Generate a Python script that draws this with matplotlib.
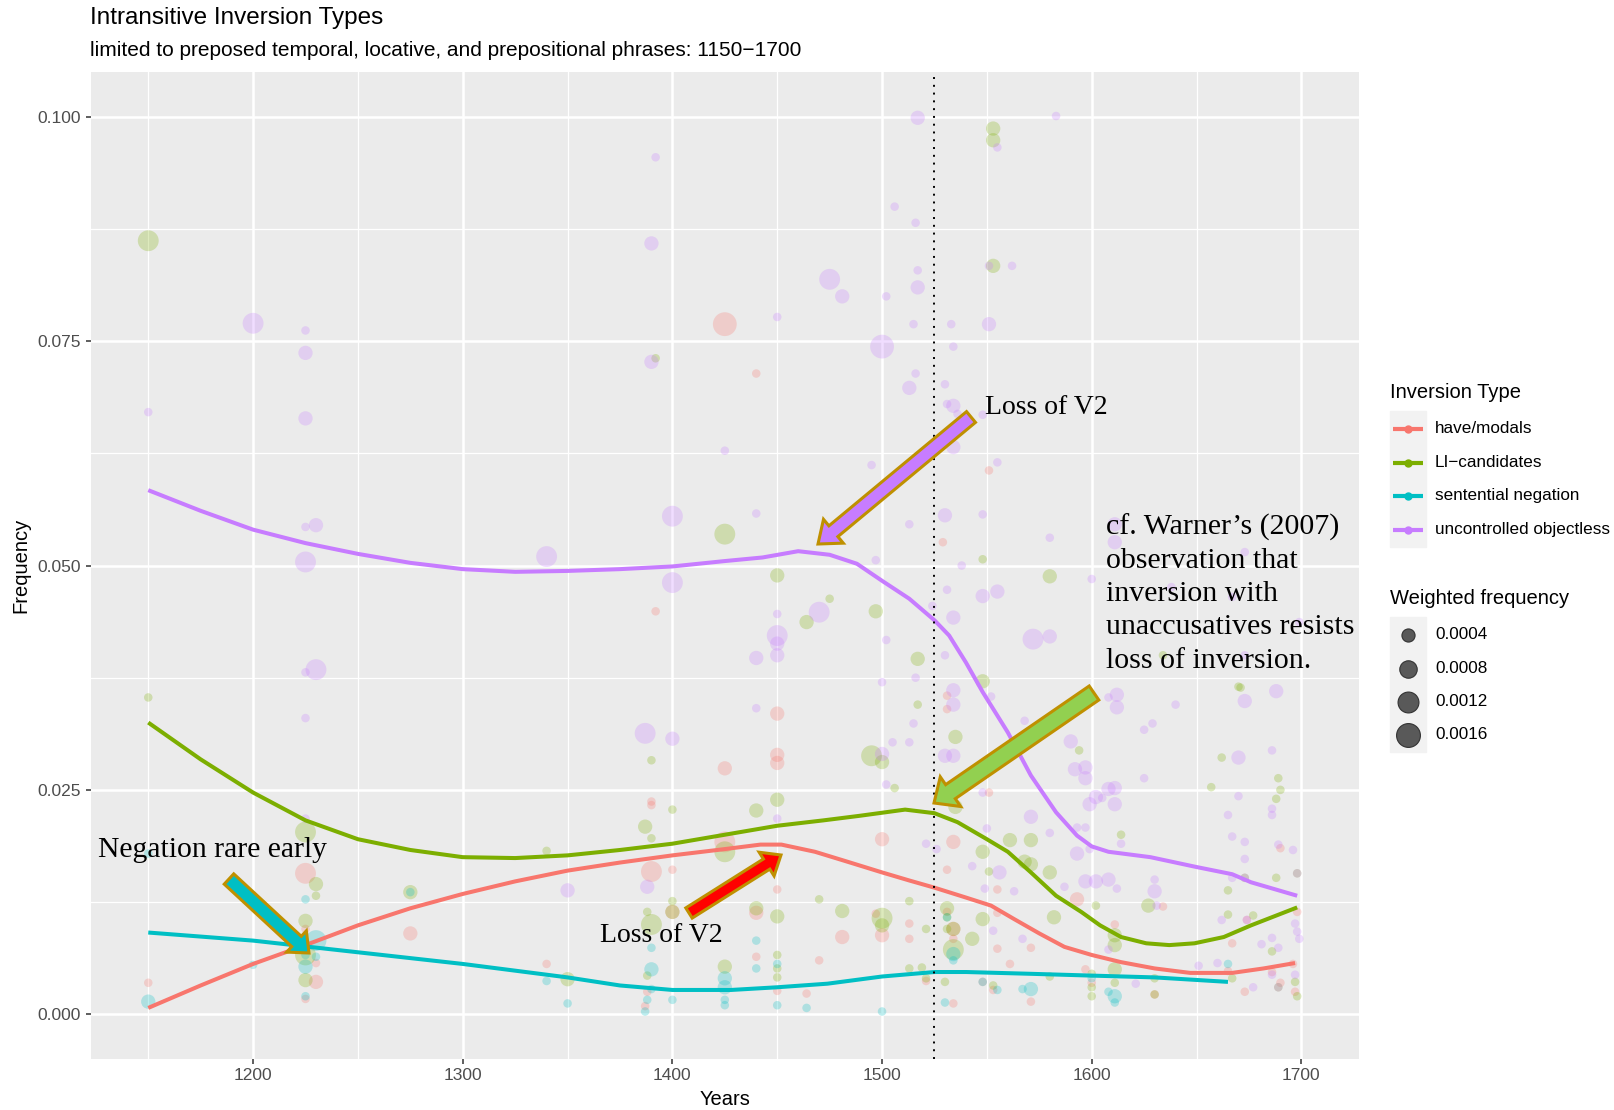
import matplotlib
matplotlib.use("Agg")
import matplotlib.pyplot as plt
from matplotlib.patches import FancyArrow, Rectangle

# weight classes (weighted frequency of each point)
S, M, L, XL = 0.0001, 0.0005, 0.0012, 0.0016

types = ['have/modals', 'LI\u2212candidates', 'sentential negation', 'uncontrolled objectless']
colors = ['#F8766D', '#7CAE00', '#00BFC4', '#C77CFF']

# observations: (year, frequency, weight)
modals_pts = [
    (1150, 0.0035, S), (1225, 0.0157, L), (1225, 0.0095, S), (1225, 0.0017, S), (1230, 0.0057, S),
    (1230, 0.0036, M), (1275, 0.0090, M), (1340, 0.0056, S), (1388, 0.0025, S), (1387, 0.0009, S),
    (1390, 0.0237, S), (1390, 0.0233, S), (1390, 0.0159, L), (1392, 0.0449, S), (1400, 0.0161, S),
    (1400, 0.0114, M), (1425, 0.0769, XL), (1425, 0.0274, M), (1425, 0.0192, L), (1440, 0.0714, S),
    (1440, 0.0113, M), (1440, 0.0064, S), (1450, 0.0335, M), (1450, 0.0289, M), (1450, 0.0280, M),
    (1450, 0.0139, S), (1450, 0.0026, S), (1464, 0.0023, S), (1470, 0.0060, S), (1481, 0.0086, M),
    (1497, 0.0112, S), (1500, 0.0195, M), (1500, 0.0088, M), (1513, 0.0101, S), (1513, 0.0084, S),
    (1521, 0.0037, S), (1529, 0.0526, S), (1531, 0.0355, S), (1531, 0.0340, S), (1531, 0.0161, S),
    (1531, 0.0114, S), (1534, 0.0192, M), (1534, 0.0095, M), (1534, 0.0084, S), (1534, 0.0012, S),
    (1548, 0.0036, S), (1551, 0.0606, S), (1551, 0.0247, S), (1553, 0.0027, S), (1555, 0.0139, S),
    (1555, 0.0113, S), (1555, 0.0073, S), (1561, 0.0056, S), (1571, 0.0074, S), (1571, 0.0014, S),
    (1593, 0.0128, M), (1597, 0.0050, S), (1600, 0.0035, S), (1611, 0.0100, S), (1630, 0.0022, S),
    (1634, 0.0120, S), (1665, 0.0048, S), (1667, 0.0079, S), (1673, 0.0025, S), (1674, 0.0105, S),
    (1686, 0.0047, S), (1690, 0.0185, S), (1690, 0.0035, S), (1696, 0.0056, S), (1698, 0.0114, S),
    (1697, 0.0025, S),
]

li_pts = [
    (1150, 0.0862, L), (1150, 0.0353, S), (1225, 0.0203, L), (1225, 0.0104, M), (1225, 0.0066, L),
    (1225, 0.0038, M), (1230, 0.0145, M), (1230, 0.0132, S), (1275, 0.0136, M), (1340, 0.0182, S),
    (1350, 0.0039, M), (1387, 0.0209, M), (1388, 0.0114, S), (1388, 0.0043, S), (1390, 0.0283, S),
    (1390, 0.0196, S), (1390, 0.0100, L), (1392, 0.0731, S), (1400, 0.0228, S), (1400, 0.0126, S),
    (1400, 0.0114, M), (1425, 0.0535, L), (1425, 0.0181, L), (1425, 0.0053, M), (1440, 0.0227, M),
    (1440, 0.0118, M), (1450, 0.0489, M), (1450, 0.0239, M), (1450, 0.0109, M), (1450, 0.0066, S),
    (1450, 0.0051, S), (1450, 0.0041, S), (1464, 0.0437, M), (1470, 0.0128, S), (1475, 0.0463, S),
    (1481, 0.0115, M), (1495, 0.0288, L), (1497, 0.0449, M), (1500, 0.0281, M), (1500, 0.0107, L),
    (1500, 0.0099, M), (1506, 0.0252, S), (1513, 0.0126, S), (1513, 0.0051, S), (1517, 0.0396, M),
    (1517, 0.0345, S), (1519, 0.0052, S), (1521, 0.0095, S), (1521, 0.0040, S), (1530, 0.0036, S),
    (1531, 0.0118, M), (1531, 0.0108, S), (1531, 0.0095, S), (1534, 0.0095, M), (1534, 0.0072, L),
    (1535, 0.0309, M), (1535, 0.0231, M), (1543, 0.0084, M), (1548, 0.0507, S), (1548, 0.0371, M),
    (1548, 0.0181, M), (1548, 0.0106, M), (1551, 0.0159, S), (1553, 0.0987, M), (1553, 0.0974, M),
    (1553, 0.0834, M), (1553, 0.0032, S), (1561, 0.0194, M), (1568, 0.0170, M), (1571, 0.0194, M),
    (1571, 0.0167, M), (1580, 0.0488, M), (1580, 0.0158, M), (1580, 0.0042, S), (1582, 0.0108, M),
    (1594, 0.0294, S), (1600, 0.0045, S), (1600, 0.0030, S), (1600, 0.0020, S), (1602, 0.0121, S),
    (1611, 0.0088, M), (1611, 0.0077, M), (1611, 0.0050, M), (1611, 0.0035, S), (1614, 0.0200, S),
    (1627, 0.0121, M), (1630, 0.0040, S), (1630, 0.0022, S), (1634, 0.0400, S), (1657, 0.0253, S),
    (1662, 0.0286, S), (1665, 0.0138, S), (1665, 0.0111, S), (1667, 0.0040, S), (1670, 0.0365, S),
    (1671, 0.0364, S), (1673, 0.0152, S), (1677, 0.0110, S), (1686, 0.0070, S), (1688, 0.0240, S),
    (1688, 0.0152, S), (1689, 0.0263, S), (1689, 0.0030, S), (1690, 0.0250, S), (1698, 0.0157, S),
    (1698, 0.0020, S), (1697, 0.0036, S),
]

negation_pts = [
    (1150, 0.0179, S), (1150, 0.0014, M), (1200, 0.0055, S), (1225, 0.0128, S), (1225, 0.0053, M),
    (1225, 0.0020, S), (1225, 0.0066, S), (1230, 0.0082, L), (1230, 0.0064, S), (1275, 0.0136, S),
    (1340, 0.0037, S), (1350, 0.0012, S), (1387, 0.0003, S), (1388, 0.0016, S), (1390, 0.0074, S),
    (1390, 0.0050, M), (1390, 0.0028, S), (1400, 0.0016, S), (1425, 0.0040, M), (1425, 0.0030, M),
    (1425, 0.0016, S), (1425, 0.0010, S), (1440, 0.0082, S), (1440, 0.0051, S), (1450, 0.0056, S),
    (1450, 0.0010, S), (1464, 0.0007, S), (1500, 0.0003, S), (1530, 0.0013, S), (1531, 0.0108, S),
    (1534, 0.0067, M), (1534, 0.0060, S), (1548, 0.0036, S), (1555, 0.0027, S), (1567, 0.0028, S),
    (1571, 0.0028, M), (1600, 0.0040, S), (1608, 0.0025, S), (1611, 0.0020, M), (1611, 0.0013, S),
    (1665, 0.0056, S),
]

objectless_pts = [
    (1150, 0.0671, S), (1200, 0.0770, L), (1225, 0.0762, S), (1225, 0.0737, M), (1225, 0.0664, M),
    (1225, 0.0543, S), (1230, 0.0545, M), (1225, 0.0504, L), (1225, 0.0381, S), (1230, 0.0384, L),
    (1225, 0.0330, S), (1225, 0.0218, S), (1340, 0.0510, L), (1350, 0.0138, M), (1392, 0.0955, S),
    (1390, 0.0859, M), (1390, 0.0727, M), (1400, 0.0555, L), (1400, 0.0481, L), (1387, 0.0313, L),
    (1400, 0.0307, M), (1388, 0.0142, M), (1425, 0.0628, S), (1440, 0.0558, S), (1450, 0.0777, S),
    (1475, 0.0819, L), (1481, 0.0800, M), (1450, 0.0446, S), (1450, 0.0422, L), (1450, 0.0413, M),
    (1440, 0.0397, M), (1450, 0.0400, M), (1470, 0.0448, L), (1440, 0.0341, S), (1450, 0.0218, S),
    (1495, 0.0612, S), (1497, 0.0506, S), (1500, 0.0744, XL), (1502, 0.0800, S), (1506, 0.0900, S),
    (1517, 0.0999, M), (1516, 0.0882, S), (1517, 0.0829, S), (1517, 0.0810, M), (1515, 0.0769, S),
    (1516, 0.0714, S), (1513, 0.0698, M), (1513, 0.0546, S), (1502, 0.0417, S), (1500, 0.0370, S),
    (1500, 0.0290, M), (1502, 0.0256, S), (1505, 0.0303, S), (1513, 0.0303, S), (1515, 0.0324, S),
    (1516, 0.0375, S), (1524, 0.0455, S), (1521, 0.0190, S), (1526, 0.0184, S), (1530, 0.0702, S),
    (1530, 0.0556, M), (1530, 0.0400, S), (1530, 0.0288, M), (1531, 0.0680, S), (1531, 0.0473, S),
    (1533, 0.0769, S), (1534, 0.0744, S), (1534, 0.0678, M), (1534, 0.0632, M), (1534, 0.0442, M),
    (1534, 0.0361, M), (1534, 0.0345, M), (1534, 0.0288, M), (1536, 0.0669, S), (1538, 0.0500, S),
    (1543, 0.0165, S), (1548, 0.0668, S), (1548, 0.0557, S), (1548, 0.0466, M), (1548, 0.0247, S),
    (1549, 0.0140, S), (1550, 0.0207, S), (1551, 0.0769, M), (1551, 0.0834, S), (1552, 0.0354, S),
    (1553, 0.0093, S), (1555, 0.0966, S), (1555, 0.0615, S), (1555, 0.0471, M), (1556, 0.0158, M),
    (1562, 0.0834, S), (1563, 0.0137, S), (1567, 0.0084, S), (1568, 0.0327, S), (1571, 0.0220, M),
    (1572, 0.0418, L), (1580, 0.0421, M), (1580, 0.0531, S), (1580, 0.0202, S), (1583, 0.1001, S),
    (1587, 0.0142, S), (1590, 0.0304, M), (1592, 0.0273, M), (1593, 0.0208, S), (1593, 0.0179, M),
    (1597, 0.0275, M), (1597, 0.0263, M), (1597, 0.0208, S), (1597, 0.0148, M), (1599, 0.0234, M),
    (1599, 0.0184, S), (1600, 0.0485, S), (1602, 0.0242, M), (1602, 0.0148, M), (1605, 0.0241, S),
    (1608, 0.0353, S), (1608, 0.0251, M), (1608, 0.0150, M), (1608, 0.0072, S), (1611, 0.0546, M),
    (1611, 0.0526, M), (1611, 0.0252, M), (1611, 0.0234, M), (1612, 0.0356, M), (1612, 0.0342, M),
    (1612, 0.0140, S), (1614, 0.0190, S), (1621, 0.0034, S), (1625, 0.0317, S), (1625, 0.0263, S),
    (1629, 0.0324, S), (1630, 0.0150, S), (1630, 0.0137, M), (1631, 0.0121, S), (1638, 0.0476, S),
    (1640, 0.0345, S), (1651, 0.0054, S), (1660, 0.0057, S), (1662, 0.0105, S), (1665, 0.0222, S),
    (1667, 0.0465, S), (1667, 0.0198, S), (1667, 0.0152, S), (1670, 0.0286, M), (1670, 0.0243, S),
    (1673, 0.0515, S), (1673, 0.0400, S), (1673, 0.0349, M), (1673, 0.0192, S), (1673, 0.0173, S),
    (1673, 0.0152, S), (1674, 0.0105, S), (1677, 0.0030, S), (1681, 0.0078, S), (1686, 0.0294, S),
    (1686, 0.0229, S), (1686, 0.0222, S), (1686, 0.0085, S), (1686, 0.0044, S), (1688, 0.0360, M),
    (1689, 0.0189, S), (1689, 0.0074, S), (1689, 0.0030, S), (1696, 0.0183, S), (1697, 0.0101, S),
    (1698, 0.0092, S), (1698, 0.0157, S), (1699, 0.0437, S), (1699, 0.0084, S), (1697, 0.0044, S),
]

# smoothed trends
modals_curve_x = [1150, 1175, 1200, 1225, 1250, 1275, 1300, 1325, 1350, 1375, 1400, 1425, 1442, 1452,
                  1468, 1482, 1500, 1513, 1525, 1540, 1552, 1563, 1575, 1587, 1600, 1614, 1630, 1647,
                  1667, 1682, 1697]
modals_curve_y = [0.0007, 0.0032, 0.0056, 0.0077, 0.0099, 0.0118, 0.0134, 0.0148, 0.0160, 0.0169, 0.0177,
                  0.0184, 0.0189, 0.0189, 0.0181, 0.0171, 0.0158, 0.0149, 0.0141, 0.0130, 0.0121, 0.0106,
                  0.0090, 0.0075, 0.0066, 0.0058, 0.0051, 0.0046, 0.0046, 0.0051, 0.0057]

li_curve_x = [1150, 1175, 1200, 1225, 1250, 1275, 1300, 1325, 1350, 1375, 1400, 1425, 1450, 1472, 1489,
              1511, 1525, 1536, 1550, 1560, 1571, 1583, 1595, 1604, 1614, 1626, 1637, 1649, 1663, 1676, 1698]
li_curve_y = [0.0325, 0.0284, 0.0247, 0.0216, 0.0195, 0.0183, 0.0175, 0.0174, 0.0177, 0.0183, 0.0190,
              0.0200, 0.0210, 0.0216, 0.0221, 0.0228, 0.0224, 0.0214, 0.0195, 0.0181, 0.0158, 0.0132,
              0.0114, 0.0099, 0.0086, 0.0079, 0.0077, 0.0079, 0.0086, 0.0099, 0.0119]

negation_curve_x = [1150, 1200, 1250, 1300, 1350, 1375, 1400, 1415, 1428, 1450, 1474, 1500, 1525, 1540,
                    1571, 1600, 1630, 1665]
negation_curve_y = [0.0091, 0.0082, 0.0069, 0.0056, 0.0041, 0.0032, 0.0027, 0.0027, 0.0027, 0.0030,
                    0.0034, 0.0042, 0.0047, 0.0047, 0.0045, 0.0043, 0.0041, 0.0036]

objectless_curve_x = [1150, 1175, 1200, 1225, 1250, 1275, 1300, 1325, 1350, 1375, 1400, 1425, 1443, 1460,
                      1475, 1488, 1500, 1513, 1525, 1532, 1540, 1548, 1560, 1571, 1583, 1593, 1600, 1608,
                      1628, 1650, 1667, 1676, 1698]
objectless_curve_y = [0.0584, 0.0561, 0.0540, 0.0525, 0.0513, 0.0503, 0.0496, 0.0493, 0.0494, 0.0496,
                      0.0499, 0.0505, 0.0509, 0.0516, 0.0512, 0.0502, 0.0483, 0.0463, 0.0439, 0.0422,
                      0.0392, 0.0359, 0.0314, 0.0266, 0.0225, 0.0199, 0.0187, 0.0181, 0.0175, 0.0164,
                      0.0156, 0.0147, 0.0132]

legend_weights = [0.0004, 0.0008, 0.0012, 0.0016]
cutoff_year = 1525


def marker_area(w):
    # area scale: diameter in px from weight, converted to points^2
    d_px = (40 + 330000 * w) ** 0.5
    return (0.72 * d_px) ** 2


plt.rcParams['font.family'] = ['Liberation Sans', 'DejaVu Sans']
fig = plt.figure(figsize=(16.15, 11.1), dpi=100)
ax = fig.add_axes([0.0561, 0.0459, 0.7854, 0.8892])
ax.set_facecolor('#EBEBEB')
for sp in ax.spines.values():
    sp.set_visible(False)

all_pts = [modals_pts, li_pts, negation_pts, objectless_pts]
curves = [(modals_curve_x, modals_curve_y), (li_curve_x, li_curve_y),
          (negation_curve_x, negation_curve_y), (objectless_curve_x, objectless_curve_y)]

for pts, col in zip(all_pts, colors):
    xs = [p[0] for p in pts]
    ys = [p[1] for p in pts]
    ss = [marker_area(p[2]) for p in pts]
    ax.scatter(xs, ys, s=ss, color=col, alpha=0.26, edgecolors='none', zorder=3)

for (cx, cy), col in zip(curves, colors):
    ax.plot(cx, cy, color=col, lw=2.9, zorder=4, solid_capstyle='butt', solid_joinstyle='round')

ax.axvline(cutoff_year, color='black', lw=1.4, ls=(0, (1, 3)), zorder=5)

ax.set_xlim(1122.5, 1727.5)
ax.set_ylim(-0.005, 0.105)
ax.set_xticks([1200, 1300, 1400, 1500, 1600, 1700])
ax.set_xticks([1150, 1250, 1350, 1450, 1550, 1650], minor=True)
ax.set_yticks([0, 0.025, 0.05, 0.075, 0.1])
ax.set_yticks([0.0125, 0.0375, 0.0625, 0.0875], minor=True)
ax.set_yticklabels(['0.000', '0.025', '0.050', '0.075', '0.100'])
ax.grid(which='major', color='white', lw=1.8, zorder=0)
ax.grid(which='minor', color='white', lw=0.9, zorder=0)
ax.set_axisbelow(True)
ax.tick_params(which='major', length=3.8, width=1.1, color='#333333', labelsize=12.5,
               labelcolor='#4D4D4D', pad=3)
ax.tick_params(which='minor', length=0)
ax.set_xlabel('Years', fontsize=14.5, labelpad=5)
ax.set_ylabel('Frequency', fontsize=14.5, labelpad=5)

# overlay in pixel coordinates for titles, annotations and legends
ov = fig.add_axes([0, 0, 1, 1], zorder=10)
ov.set_xlim(0, 1615)
ov.set_ylim(1110, 0)
ov.axis('off')

ov.text(90, 18, 'Intransitive Inversion Types', fontsize=17.5, va='center', ha='left')
ov.text(90, 50, 'limited to preposed temporal, locative, and prepositional phrases: 1150\u22121700',
        fontsize=15, va='center', ha='left')

gold = '#BF9000'
arrows = [
    ((971, 417), (818, 544), '#C77CFF', 14, 31, 20),
    ((1094, 693), (934, 803), '#92D050', 17, 36, 20),
    ((229, 879), (309, 953), '#00BFC4', 14, 29, 17),
    ((689, 913), (781, 855), '#FF0000', 12, 28, 17),
]
for (x0, y0), (x1, y1), fc, w, hw, hl in arrows:
    ov.add_patch(FancyArrow(x0, y0, x1 - x0, y1 - y0, width=w, head_width=hw, head_length=hl,
                            length_includes_head=True, fc=fc, ec=gold, lw=2.2))

serif = ['Liberation Serif', 'DejaVu Serif']
ov.text(985, 407, 'Loss of V2', fontsize=20, family=serif, va='center', ha='left')
ov.text(600, 935, 'Loss of V2', fontsize=20, family=serif, va='center', ha='left')
ov.text(98, 850, 'Negation rare early', fontsize=21.3, family=serif, va='center', ha='left')
warner = ['cf. Warner\u2019s (2007)', 'observation that', 'inversion with',
          'unaccusatives resists', 'loss of inversion.']
for i, line in enumerate(warner):
    ov.text(1106, 527 + i * 33.5, line, fontsize=21.5, family=serif, va='center', ha='left')

# legend: inversion type
ov.text(1390, 392, 'Inversion Type', fontsize=14.5, va='center', ha='left')
ov.add_patch(Rectangle((1390, 411), 36, 136, color='#F2F2F2', zorder=1))
rows = [428.5, 462.5, 495.5, 529.5]
for y, col, lab in zip(rows, colors, types):
    ov.plot([1393, 1423], [y, y], color=col, lw=3, solid_capstyle='butt', zorder=2)
    ov.plot([1408], [y], 'o', color=col, ms=5, zorder=3)
    ov.text(1435, y, lab, fontsize=12.3, va='center', ha='left')

# legend: weighted frequency
ov.text(1390, 598, 'Weighted frequency', fontsize=14.5, va='center', ha='left')
ov.add_patch(Rectangle((1390, 617), 36, 135, color='#F2F2F2', zorder=1))
rows2 = [634.5, 668.5, 701.5, 734.5]
for y, w in zip(rows2, legend_weights):
    ov.scatter([1408], [y], s=marker_area(w), color='#595959', edgecolors='#333333', lw=0.8, zorder=3)
    ov.text(1435, y, f'{w:.4f}', fontsize=12.3, va='center', ha='left')

fig.savefig('out.png', dpi=100)
